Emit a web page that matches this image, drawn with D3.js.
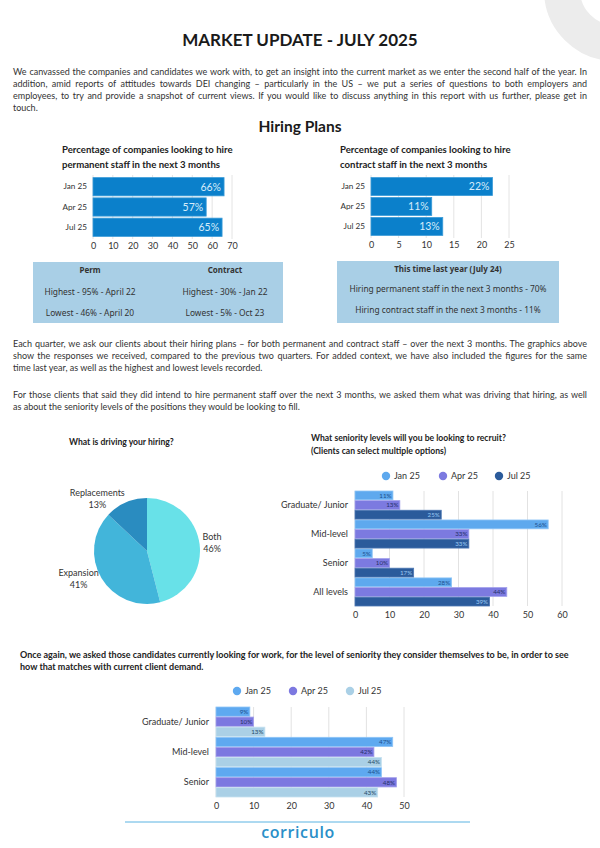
<!DOCTYPE html>
<html>
<head>
<meta charset="utf-8">
<script src="https://cdn.jsdelivr.net/npm/d3@7"></script>
<style>
  body { margin: 0; background: #fff; }
  #page { position: relative; width: 600px; height: 848px; overflow: hidden; font-family: Lato, sans-serif; color: #333; }
  #page svg { position: absolute; left: 0; top: 0; }
  .para { position: absolute; font-size: 9px; line-height: 12px; color: #333; }
  .para div { white-space: nowrap; text-align: justify; text-align-last: justify; }
  .para div.last { text-align-last: left; }
  .bold { font-weight: bold; color: #222; font-size: 9px; }
  .bold div { text-align: left; text-align-last: left; }
</style>
</head>
<body>
<div id="page"></div>
<script>
// hiring plans
var periods = ["Jan 25", "Apr 25", "Jul 25"];
var permPct = [66, 57, 65];
var contractPct = [22, 11, 13];
var permTicks = [0, 10, 20, 30, 40, 50, 60, 70];
var contractTicks = [0, 5, 10, 15, 20, 25];

// record tables
var permRecords = ["Highest - 95% - April 22", "Lowest - 46% - April 20"];
var contractRecords = ["Highest - 30% - Jan 22", "Lowest - 5% - Oct 23"];
var lastYear = ["Hiring permanent staff in the next 3 months - 70%", "Hiring contract staff in the next 3 months - 11%"];

// drivers pie
var drivers = ["Both", "Expansion", "Replacements"];
var driverPct = [46, 41, 13];

// client seniority
var clientLevels = ["Graduate/ Junior", "Mid-level", "Senior", "All levels"];
var clientJan = [11, 56, 5, 28];
var clientApr = [13, 33, 10, 44];
var clientJul = [25, 33, 17, 39];
var clientTicks = [0, 10, 20, 30, 40, 50, 60];

// candidate seniority
var candLevels = ["Graduate/ Junior", "Mid-level", "Senior"];
var candJan = [9, 47, 44];
var candApr = [10, 42, 48];
var candJul = [13, 44, 43];
var candTicks = [0, 10, 20, 30, 40, 50];

var para1 = [
  "We canvassed the companies and candidates we work with, to get an insight into the current market as we enter the second half of the year. In",
  "addition, amid reports of attitudes towards DEI changing \u2013 particularly in the US \u2013 we put a series of questions to both employers and",
  "employees, to try and provide a snapshot of current views. If you would like to discuss anything in this report with us further, please get in",
  "touch."
];
var para2 = [
  "Each quarter, we ask our clients about their hiring plans \u2013 for both permanent and contract staff \u2013 over the next 3 months. The graphics above",
  "show the responses we received, compared to the previous two quarters. For added context, we have also included the figures for the same",
  "time last year, as well as the highest and lowest levels recorded."
];
var para3 = [
  "For those clients that said they did intend to hire permanent staff over the next 3 months, we asked them what was driving that hiring, as well",
  "as about the seniority levels of the positions they would be looking to fill."
];
var para4 = [
  "Once again, we asked those candidates currently looking for work, for the level of seniority they consider themselves to be, in order to see",
  "how that matches with current client demand."
];

var page = d3.select('#page');
var svg = page.append('svg').attr('width', 600).attr('height', 848);

// corner ring
svg.append('circle').attr('cx', 615).attr('cy', -10).attr('r', 53)
  .attr('fill', 'none').attr('stroke', '#ececec').attr('stroke-width', 36);

svg.append('text').attr('x', 300).attr('y', 46).attr('text-anchor', 'middle')
  .attr('font-size', 17).attr('font-weight', 'bold').attr('fill', '#1a1a1a')
  .text('MARKET UPDATE - JULY 2025');
svg.append('text').attr('x', 300).attr('y', 132).attr('text-anchor', 'middle')
  .attr('font-size', 15.5).attr('font-weight', 'bold').attr('fill', '#1a1a1a')
  .text('Hiring Plans');

function paragraph(lines, left, top, width, cls) {
  var p = page.append('div').attr('class', 'para ' + (cls || ''))
    .style('left', left + 'px').style('top', top + 'px').style('width', width + 'px');
  p.selectAll('div').data(lines).join('div')
    .attr('class', function(d, i) { return i == lines.length - 1 ? 'last' : null; })
    .text(function(d) { return d; });
}
paragraph(para1, 13, 66, 574);
paragraph(para2, 13, 338, 574);
paragraph(para3, 13, 389, 574);
paragraph(para4, 20, 649, 561, 'bold');

function hiringChart(o) {
  var g = svg.append('g');
  var x = d3.scaleLinear().domain([0, o.ticks[o.ticks.length - 1]]).range(o.xr);
  var y = d3.scaleBand().domain(periods).range(o.yr).paddingInner(0.1).paddingOuter(0.03);
  g.selectAll('text.title').data(o.title).join('text')
    .attr('x', o.tx).attr('y', function(d, i) { return 153 + i * 15; })
    .attr('font-size', 9.6).attr('font-weight', 'bold').attr('fill', '#222')
    .text(function(d) { return d; });
  g.selectAll('line.grid').data(o.ticks).join('line')
    .attr('x1', x).attr('x2', x).attr('y1', o.yr[0] - 2).attr('y2', o.yr[1] + 2)
    .attr('stroke', '#e4e4e4');
  g.selectAll('rect.bar').data(o.values).join('rect')
    .attr('x', x(0)).attr('y', function(d, i) { return y(periods[i]); })
    .attr('width', function(d) { return x(d) - x(0); }).attr('height', y.bandwidth())
    .attr('fill', '#0b80cb').attr('stroke', '#3a9bd8').attr('stroke-width', 0.8);
  g.selectAll('text.val').data(o.values).join('text')
    .attr('x', function(d) { return x(d) - 3; })
    .attr('y', function(d, i) { return y(periods[i]) + y.bandwidth() / 2 + 3.8; })
    .attr('text-anchor', 'end').attr('font-size', 10.5).attr('fill', '#d6ecfa')
    .text(function(d) { return d + '%'; });
  var xa = g.append('g').attr('transform', 'translate(0,' + o.yr[1] + ')')
    .call(d3.axisBottom(x).tickValues(o.ticks).tickSize(0).tickPadding(6));
  var ya = g.append('g').attr('transform', 'translate(' + x(0) + ',0)')
    .call(d3.axisLeft(y).tickSize(0).tickPadding(6));
  [xa, ya].forEach(function(a) {
    a.select('.domain').remove();
    a.selectAll('text').attr('font-family', 'Lato, sans-serif').attr('fill', '#333');
  });
  xa.selectAll('text').attr('font-size', 9);
  ya.selectAll('text').attr('font-size', 8.2);
}

hiringChart({ title: ["Percentage of companies looking to hire", "permanent staff in the next 3 months"],
  tx: 62, values: permPct, ticks: permTicks, xr: [93, 232], yr: [177, 237] });
hiringChart({ title: ["Percentage of companies looking to hire", "contract staff in the next 3 months"],
  tx: 340, values: contractPct, ticks: contractTicks, xr: [371, 509], yr: [177, 236] });

// tables
var tFont = "'Noto Sans', sans-serif";
svg.append('rect').attr('x', 33).attr('y', 262).attr('width', 250).attr('height', 61).attr('fill', '#a9cfe6');
svg.append('rect').attr('x', 337).attr('y', 261).attr('width', 222).attr('height', 62).attr('fill', '#a9cfe6');
function tableText(x, y, t, bold) {
  svg.append('text').attr('x', x).attr('y', y).attr('text-anchor', 'middle')
    .attr('font-family', tFont).attr('font-size', bold ? 8 : 8.4).attr('fill', '#333')
    .attr('font-weight', bold ? 'bold' : 'normal').text(t);
}
tableText(90, 273, 'Perm', true);
tableText(225, 273, 'Contract', true);
permRecords.forEach(function(t, i) { tableText(90, 295 + i * 21, t); });
contractRecords.forEach(function(t, i) { tableText(225, 295 + i * 21, t); });
tableText(448, 272, 'This time last year (July 24)', true);
lastYear.forEach(function(t, i) { tableText(448, 292 + i * 21, t); });

// pie
svg.append('text').attr('x', 69).attr('y', 445).attr('font-size', 8.6)
  .attr('font-weight', 'bold').attr('fill', '#222').text('What is driving your hiring?');
var pieColors = ['#68e1e8', '#42b5da', '#2a8cc0'];
var cx = 147, cy = 551, r = 53;
var pie = d3.pie().sort(null)(driverPct);
var arc = d3.arc().innerRadius(0).outerRadius(r);
var pg = svg.append('g').attr('transform', 'translate(' + cx + ',' + cy + ')');
pg.selectAll('path').data(pie).join('path').attr('d', arc)
  .attr('fill', function(d, i) { return pieColors[i]; });
var labelArc = d3.arc().innerRadius(r + 3).outerRadius(r + 3);
pie.forEach(function(d, i) {
  var c = labelArc.centroid(d);
  var lg = pg.append('g');
  var t1 = lg.append('text').attr('y', -2).attr('text-anchor', 'middle').attr('font-size', 9).attr('fill', '#333').text(drivers[i]);
  var t2 = lg.append('text').attr('y', 10).attr('text-anchor', 'middle').attr('font-size', 9).attr('fill', '#333').text(driverPct[i] + '%');
  var w = Math.max(t1.node().getComputedTextLength(), t2.node().getComputedTextLength());
  var dx = c[0] >= 0 ? w / 2 : -w / 2;
  lg.attr('transform', 'translate(' + (c[0] + dx) + ',' + (c[1] - 2) + ')');
});

function groupedChart(o) {
  var g = svg.append('g');
  var x = d3.scaleLinear().domain([0, o.ticks[o.ticks.length - 1]]).range(o.xr);
  var y = d3.scaleBand().domain(o.levels).range(o.yr).paddingInner(0.03);
  var ys = d3.scaleBand().domain(periods).range([0, y.bandwidth()]).paddingInner(0.08);
  var series = [o.jan, o.apr, o.jul];
  if (o.title) {
    g.selectAll('text.title').data(o.title).join('text')
      .attr('x', o.tx).attr('y', function(d, i) { return o.ty + i * 13; })
      .attr('font-size', 8.6).attr('font-weight', 'bold').attr('fill', '#222')
      .text(function(d) { return d; });
  }
  var lg = g.selectAll('g.leg').data(periods).join('g')
    .attr('transform', function(d, i) { return 'translate(' + o.legX[i] + ',' + o.legY + ')'; });
  lg.append('circle').attr('r', 4.2).attr('fill', function(d, i) { return o.colors[i]; });
  lg.append('text').attr('x', 8).attr('y', 3.3).attr('font-size', 9).attr('fill', '#333')
    .text(function(d) { return d; });
  g.selectAll('line.grid').data(o.ticks).join('line')
    .attr('x1', x).attr('x2', x).attr('y1', o.yr[0]).attr('y2', o.yr[1])
    .attr('stroke', '#e2e2e2');
  series.forEach(function(vals, s) {
    g.selectAll('rect.s' + s).data(vals).join('rect')
      .attr('x', x(0)).attr('y', function(d, i) { return y(o.levels[i]) + ys(periods[s]); })
      .attr('width', function(d) { return x(d) - x(0); }).attr('height', ys.bandwidth())
      .attr('fill', o.colors[s]).attr('stroke', o.strokes[s]).attr('stroke-width', 0.8);
    g.selectAll('text.s' + s).data(vals).join('text')
      .attr('x', function(d) { return x(d) - 1.5; })
      .attr('y', function(d, i) { return y(o.levels[i]) + ys(periods[s]) + ys.bandwidth() / 2 + 2.2; })
      .attr('text-anchor', 'end').attr('font-size', 6.2).attr('fill', o.labelColors[s])
      .text(function(d) { return d + '%'; });
  });
  var xa = g.append('g').attr('transform', 'translate(0,' + o.yr[1] + ')')
    .call(d3.axisBottom(x).tickValues(o.ticks).tickSize(0).tickPadding(6));
  var ya = g.append('g').attr('transform', 'translate(' + x(0) + ',0)')
    .call(d3.axisLeft(y).tickSize(0).tickPadding(7));
  [xa, ya].forEach(function(a) {
    a.select('.domain').remove();
    a.selectAll('text').attr('font-family', 'Lato, sans-serif').attr('fill', '#333').attr('font-size', 9);
  });
}

groupedChart({ title: ["What seniority levels will you be looking to recruit?", "(Clients can select multiple options)"],
  tx: 311, ty: 441, legX: [386, 443, 499], legY: 476,
  levels: clientLevels, jan: clientJan, apr: clientApr, jul: clientJul, ticks: clientTicks,
  xr: [355, 562], yr: [491, 606],
  colors: ['#5ea9ee', '#7c7ae0', '#2b5b9b'], strokes: ['#8fc5f6', '#a3a1ec', '#4e78b4'],
  labelColors: ['#1d4f8c', '#25306a', '#9ccaf3'] });

groupedChart({ legX: [237, 293, 350], legY: 691,
  levels: candLevels, jan: candJan, apr: candApr, jul: candJul, ticks: candTicks,
  xr: [216, 404], yr: [707, 797],
  colors: ['#5ea9f0', '#7c78e0', '#aad0e6'], strokes: ['#8fc5f7', '#a3a0ea', '#c6e1f0'],
  labelColors: ['#1d4f8c', '#25306a', '#244a66'] });

// footer
svg.append('line').attr('x1', 125).attr('x2', 470).attr('y1', 822).attr('y2', 822)
  .attr('stroke', '#5ab3e2').attr('stroke-width', 1);
svg.append('text').attr('x', 298).attr('y', 838).attr('text-anchor', 'middle')
  .attr('font-family', "'Open Sans', sans-serif").attr('font-weight', 600).attr('font-size', 16)
  .attr('letter-spacing', 0.6).attr('fill', '#2a8fc8').text('corriculo');
</script>
</body>
</html>
